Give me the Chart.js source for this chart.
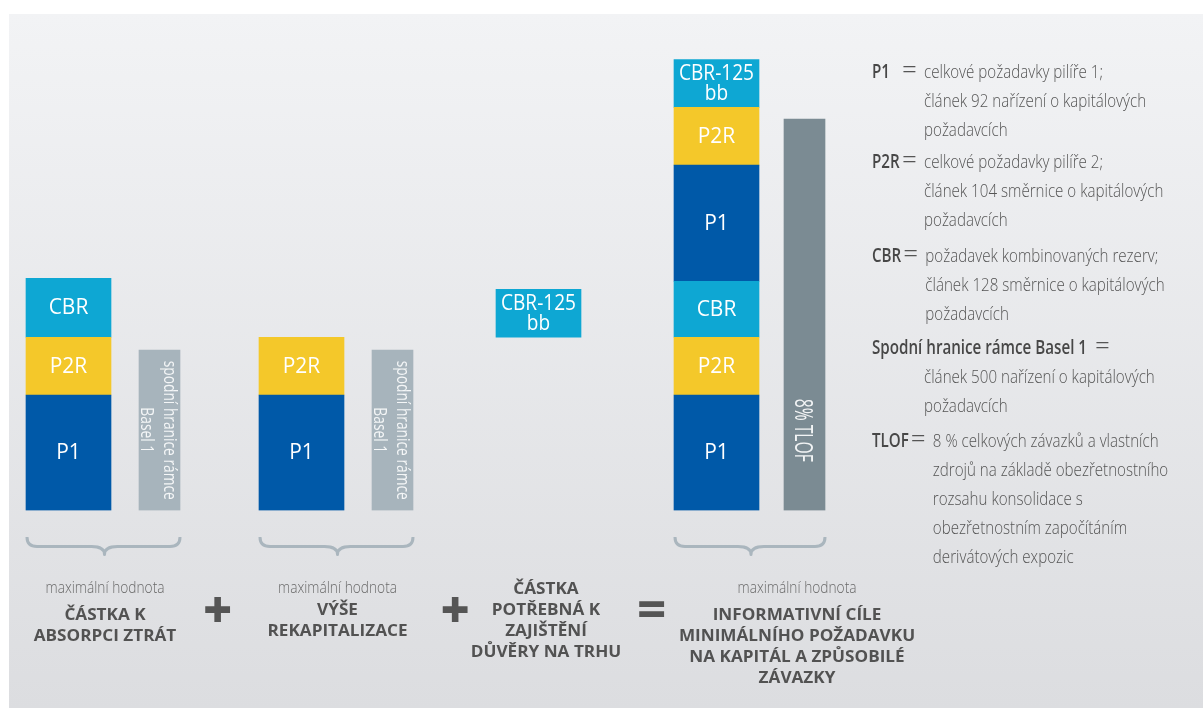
<!DOCTYPE html>
<html>
<head>
<meta charset="utf-8">
<script src="https://cdn.jsdelivr.net/npm/chart.js@4.4.1/dist/chart.umd.min.js"></script>
<style>
  html, body { margin: 0; background: #fff; }
  canvas { display: block; }
</style>
</head>
<body>
<canvas id="chart" width="1203" height="708"></canvas>
<script>
// ---- data (1 unit = one P2R block) ----
const columns = [
  "ČÁSTKA K ABSORPCI ZTRÁT",
  "VÝŠE REKAPITALIZACE",
  "ČÁSTKA POTŘEBNÁ K ZAJIŠTĚNÍ DŮVĚRY NA TRHU",
  "INFORMATIVNÍ CÍLE MINIMÁLNÍHO POŽADAVKU NA KAPITÁL A ZPŮSOBILÉ ZÁVAZKY",
];
const segmentNames = ["P1", "P2R", "CBR", "P1", "P2R", "CBR-125 bb"];
const lossAbsorption = [2.0, 1.0, 1.02];
const recapitalisation = [2.0, 1.0];
const marketConfidence = [0.83]; // CBR-125 bb, sits on the recapitalisation level
const mrelTarget = [2.0, 1.0, 0.97, 2.01, 1.0, 0.83];
const floorLines = [["spodní hranice rámce", "Basel 1"], ["spodní hranice rámce", "Basel 1"], ["8% TLOF"]];
const floorValues = [2.78, 2.78, 6.78];
const floorColumn = [0, 1, 3];

const captionNotes = ["maximální hodnota", "maximální hodnota", null, "maximální hodnota"];
const captionLines = [
  ["ČÁSTKA K", "ABSORPCI ZTRÁT"],
  ["VÝŠE", "REKAPITALIZACE"],
  ["ČÁSTKA", "POTŘEBNÁ K", "ZAJIŠTĚNÍ", "DŮVĚRY NA TRHU"],
  ["INFORMATIVNÍ CÍLE", "MINIMÁLNÍHO POŽADAVKU", "NA KAPITÁL A ZPŮSOBILÉ", "ZÁVAZKY"],
];
const operators = ["+", "+", "="];

const legendEntries = [
  { term: "P1", lines: ["celkové požadavky pilíře 1;", "článek 92 nařízení o kapitálových", "požadavcích"] },
  { term: "P2R", lines: ["celkové požadavky pilíře 2;", "článek 104 směrnice o kapitálových", "požadavcích"] },
  { term: "CBR", lines: ["požadavek kombinovaných rezerv;", "článek 128 směrnice o kapitálových", "požadavcích"] },
  { term: "Spodní hranice rámce Basel 1", lines: [null, "článek 500 nařízení o kapitálových", "požadavcích"] },
  { term: "TLOF", lines: ["8 % celkových závazků a vlastních", "zdrojů na základě obezřetnostního",
    "rozsahu konsolidace s", "obezřetnostním započítáním", "derivátových expozic"] },
];

// ---- layout ----
const stackX = [68.5, 301.5, 538.5, 716.5];
const floorX = [159.5, 392.5, 804.5];
const MAIN_W = 85, FLOOR_W = 41;
const floorLabelLevel = 1.39;
const captionX = [105, 337.5, 546, 797];
const captionY = [620, 615, 594, 620];
const operatorPos = [[218, 609], [455.5, 609], [652, 609.5]];
const legendBlockY = [78, 168, 262, 354, 447];

const segmentColors = { "P1": "#0059a8", "P2R": "#f4c82a", "CBR": "#0ea7d3", "CBR-125 bb": "#0ea7d3" };
const floorColors = ["#a7b4bc", "#a7b4bc", "#7b8b93"];

const OS = '"Open Sans", "DejaVu Sans", sans-serif';
const S = {
  segment: { font: `400 22px ${OS}`, color: "#ffffff", ref: ["P2R", 37.5] },
  segmentSmall: { font: `400 21px ${OS}`, color: "#ffffff", ref: ["CBR-125", 75] },
  floor: { font: `400 18px ${OS}`, color: "#f4f6f7", ref: ["spodní hranice rámce", 139] },
  floorBig: { font: `400 25px ${OS}`, color: "#f2f4f5", ref: ["8% TLOF", 63] },
  legend: { font: `300 19px ${OS}`, color: "#555555", ref: ["celkové požadavky pilíře 1;", 179] },
  term: { font: `600 19.5px ${OS}`, color: "#474747", ref: ["Spodní hranice rámce Basel 1", 215] },
  eq: { font: `300 26px ${OS}`, color: "#555555" },
  note: { font: `300 15.5px ${OS}`, color: "#6a6a6a", ref: ["maximální hodnota", 119] },
  caption: { font: `700 16px ${OS}`, color: "#525252", ref: ["REKAPITALIZACE", 140] },
};

// ---- datasets ----
const stacks = [lossAbsorption, recapitalisation, null, mrelTarget];
const datasets = segmentNames.map((name, level) => ({
  label: name,
  kind: "segment",
  stack: "requirement",
  barThickness: MAIN_W,
  backgroundColor: segmentColors[name],
  data: stacks.flatMap((vals, c) => (vals && vals[level] != null ? [{ x: stackX[c], y: vals[level] }] : [])),
}));
const recapTotal = recapitalisation.reduce((a, b) => a + b, 0);
datasets.push({
  label: "CBR-125 bb",
  kind: "segment",
  stack: "market",
  barThickness: MAIN_W,
  backgroundColor: segmentColors["CBR-125 bb"],
  data: [{ x: stackX[2], y: [recapTotal, recapTotal + marketConfidence[0]] }],
});
floorValues.forEach((v, i) => {
  datasets.push({
    label: floorLines[i].join(" "),
    lines: floorLines[i],
    kind: "floor",
    stack: "floor" + i,
    barThickness: FLOOR_W,
    backgroundColor: floorColors[i],
    data: [{ x: floorX[i], y: v }],
  });
});

// ---- text helpers ----
function squeezeOf(ctx, style) {
  if (style.squeeze) return style.squeeze;
  if (!style.ref) return (style.squeeze = 1);
  ctx.save();
  ctx.font = style.font;
  const w = ctx.measureText(style.ref[0]).width;
  ctx.restore();
  return (style.squeeze = style.ref[1] / w);
}
function textWidth(ctx, text, style) {
  ctx.save();
  ctx.font = style.font;
  const w = ctx.measureText(text).width * squeezeOf(ctx, style);
  ctx.restore();
  return w;
}
function drawText(ctx, text, x, y, style, align = "left") {
  const k = squeezeOf(ctx, style);
  ctx.save();
  ctx.font = style.font;
  ctx.fillStyle = style.color;
  ctx.textAlign = align;
  ctx.textBaseline = "alphabetic";
  ctx.translate(x, y);
  ctx.scale(k, 1);
  ctx.fillText(text, 0, 0);
  ctx.restore();
}
function drawGlyph(ctx, ch, cx, cy, w, h) {
  ctx.save();
  ctx.font = `800 52px ${OS}`;
  const m = ctx.measureText(ch);
  const iw = m.actualBoundingBoxLeft + m.actualBoundingBoxRight;
  const ih = m.actualBoundingBoxAscent + m.actualBoundingBoxDescent;
  ctx.translate(cx, cy);
  ctx.scale(w / iw, h / ih);
  ctx.fillStyle = "#555555";
  ctx.textAlign = "left";
  ctx.textBaseline = "alphabetic";
  ctx.fillText(ch, -(m.actualBoundingBoxRight - m.actualBoundingBoxLeft) / 2,
    -(m.actualBoundingBoxDescent - m.actualBoundingBoxAscent) / 2);
  ctx.restore();
}

// ---- plugins ----
const panelPlugin = {
  id: "panel",
  beforeDraw(chart) {
    const { ctx, width, height } = chart;
    ctx.save();
    ctx.fillStyle = "#ffffff";
    ctx.fillRect(0, 0, width, height);
    const g = ctx.createLinearGradient(0, 14, 0, height);
    g.addColorStop(0, "#f2f3f5");
    g.addColorStop(1, "#dcdde0");
    ctx.fillStyle = g;
    ctx.fillRect(9, 14, width - 9, height - 14);
    ctx.restore();
  },
};

const barLabelPlugin = {
  id: "barLabels",
  afterDatasetsDraw(chart) {
    const { ctx } = chart;
    const yScale = chart.scales.y;
    chart.data.datasets.forEach((ds, di) => {
      chart.getDatasetMeta(di).data.forEach((bar) => {
        const { x, y, base } = bar.getProps(["x", "y", "base"], true);
        const mid = (y + base) / 2;
        if (ds.kind === "segment") {
          const lines = ds.label.split(" ");
          if (lines.length === 1) {
            drawText(ctx, lines[0], x, mid + 6.5, S.segment, "center");
          } else {
            drawText(ctx, lines[0], x, mid - 3.5, S.segmentSmall, "center");
            drawText(ctx, lines[1], x, mid + 16.5, S.segmentSmall, "center");
          }
        } else {
          const cy = yScale.getPixelForValue(floorLabelLevel);
          ctx.save();
          ctx.translate(x, cy);
          ctx.rotate(Math.PI / 2);
          if (ds.lines.length === 2) {
            drawText(ctx, ds.lines[0], 0, -4.5, S.floor, "center");
            drawText(ctx, ds.lines[1], 0, 19, S.floor, "center");
          } else {
            drawText(ctx, ds.lines[0], 0, 9.5, S.floorBig, "center");
          }
          ctx.restore();
        }
      });
    });
  },
};

const annotationPlugin = {
  id: "annotations",
  afterDraw(chart) {
    const { ctx, chartArea } = chart;
    const xs = chart.scales.x;
    // braces under the columns that have a floor bar
    const y0 = chartArea.bottom + 26.5, y1 = chartArea.bottom + 36, y2 = chartArea.bottom + 44;
    ctx.save();
    ctx.strokeStyle = "#aab6be";
    ctx.lineWidth = 3;
    ctx.lineJoin = "round";
    floorColumn.forEach((c, i) => {
      const L = xs.getPixelForValue(stackX[c]) - MAIN_W / 2 + 1;
      const R = xs.getPixelForValue(floorX[i]) + FLOOR_W / 2;
      const T = (L + R) / 2 + 1;
      ctx.beginPath();
      ctx.moveTo(L, y0);
      ctx.quadraticCurveTo(L, y1, L + 10, y1);
      ctx.lineTo(T - 13, y1);
      ctx.quadraticCurveTo(T, y1, T, y2);
      ctx.quadraticCurveTo(T, y1, T + 13, y1);
      ctx.lineTo(R - 10, y1);
      ctx.quadraticCurveTo(R, y1, R, y0);
      ctx.stroke();
    });
    ctx.restore();

    // captions
    columns.forEach((_, c) => {
      if (captionNotes[c]) drawText(ctx, captionNotes[c], captionX[c], 593, S.note, "center");
      captionLines[c].forEach((line, k) => {
        drawText(ctx, line, captionX[c], captionY[c] + k * 21, S.caption, "center");
      });
    });
    operators.forEach((op, i) => {
      const [cx, cy] = operatorPos[i];
      drawGlyph(ctx, op, cx, cy, 26, op === "+" ? 26 : 15.6);
    });

    // legend
    legendEntries.forEach((entry, b) => {
      const yb = legendBlockY[b];
      drawText(ctx, entry.term, 872, yb, S.term);
      const termRight = 872 + textWidth(ctx, entry.term, S.term);
      let textX = 924;
      if (entry.lines[0] == null) {
        drawText(ctx, "=", termRight + 8, yb, S.eq);
      } else {
        const eqX = Math.max(902, termRight + 2);
        drawText(ctx, "=", eqX, yb, S.eq);
        textX = eqX + 22;
      }
      entry.lines.forEach((line, k) => {
        if (line) drawText(ctx, line, textX, yb + k * 29, S.legend);
      });
    });
  },
};

new Chart(document.getElementById("chart"), {
  type: "bar",
  data: { datasets },
  options: {
    responsive: false,
    animation: false,
    events: [],
    layout: { padding: { top: 48.5, bottom: 197.5, left: 0, right: 0 } },
    datasets: { bar: { grouped: false, borderWidth: 0 } },
    plugins: { legend: { display: false }, tooltip: { enabled: false } },
    scales: {
      x: { type: "linear", min: 0, max: 1203, offset: false, display: false },
      y: { stacked: true, min: 0, max: 8, display: false },
    },
  },
  plugins: [panelPlugin, barLabelPlugin, annotationPlugin],
});
</script>
</body>
</html>
